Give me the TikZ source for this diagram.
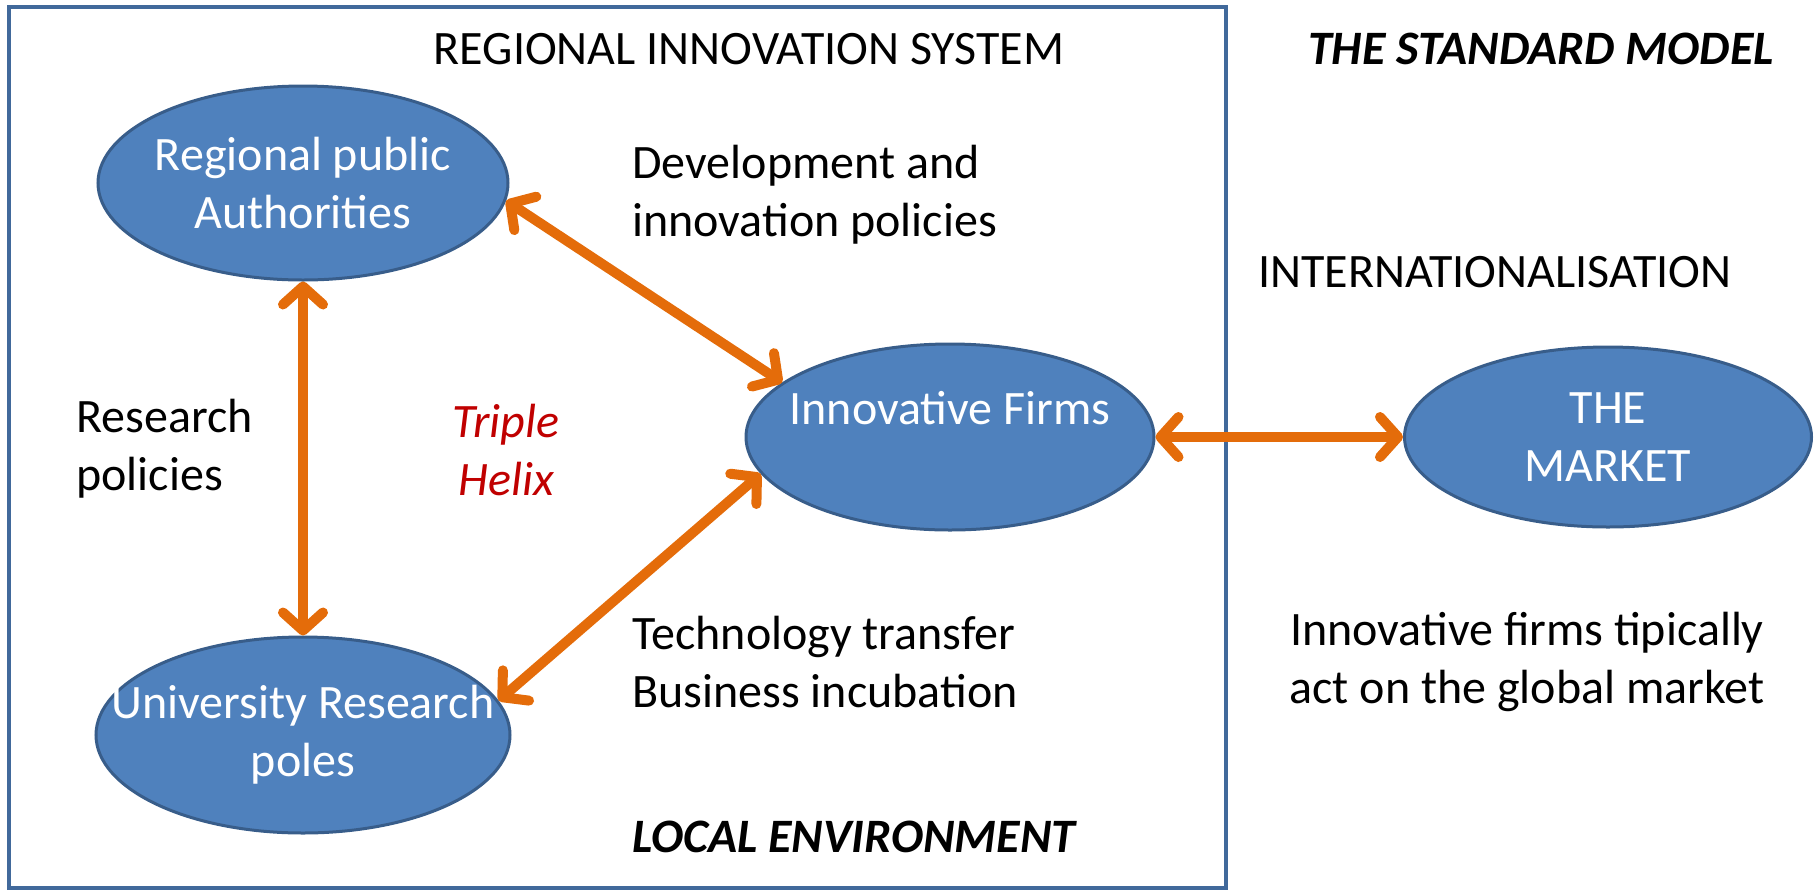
\documentclass[tikz,border=0pt]{standalone}
\usepackage{fontspec}
\setmainfont{Carlito}
\usepackage{tikz}
\usetikzlibrary{arrows.meta,positioning}
\usetikzlibrary{shapes.geometric}
\definecolor{blobfill}{HTML}{4F81BD}
\definecolor{blobline}{HTML}{385D8A}
\definecolor{boxline}{HTML}{41699B}
\definecolor{linkorange}{HTML}{E46C0A}
\definecolor{helixred}{HTML}{C00000}
\begin{document}
\begin{tikzpicture}[x=0.5pt, y=-0.5pt, font=\fontsize{24}{29}\selectfont,
  blob/.style={ellipse, draw=blobline, fill=blobfill, line width=1.5pt, inner sep=0pt, text=white, align=center},
  link/.style={draw=linkorange, line width=5pt, {Straight Barb[length=9pt,width=20pt,round]}-{Straight Barb[length=9pt,width=20pt,round]}},
  lbl/.style={inner sep=0pt, align=left}]
\useasboundingbox (0,0) rectangle (1817,890);
%\draw[step=100,gray,very thin] (0,0) grid (1817,890);
\draw[boxline, line width=2pt] (9,7) rectangle (1226,888);%%
% the three partners
\node[blob, minimum width=205pt, minimum height=97pt] (rpa) at (303,183) {\makebox[0pt]{Regional public}\\\makebox[0pt]{Authorities}};%%
\node[blob, minimum width=204pt, minimum height=93pt] (firms) at (950,437) {\makebox[0pt]{Innovative Firms}\\\mbox{}};%%
\node[blob, minimum width=207pt, minimum height=98pt] (urp) at (303,735) {\makebox[0pt]{University Research}\\\makebox[0pt]{poles}};%%
\node[blob, minimum width=203.5pt, minimum height=90pt] (market) at (1608,437) {THE\\MARKET};%%
% labels
\node[lbl] (rissys) at (749,49) {REGIONAL INNOVATION SYSTEM};%%
\node[lbl] (stdmodel) at (1541,49) {\bfseries\itshape THE STANDARD MODEL};%%
\node[lbl, anchor=west] (devpol) at (632,195) {Development and\\innovation policies};%%
\node[lbl] (intern) at (1495,272) {INTERNATIONALISATION};%%
\node[lbl, anchor=west] (respol) at (76,449) {Research\\policies};%%
\node[lbl, align=center, text=helixred, font=\fontsize{24}{29}\selectfont\itshape] (helix) at (506,450) {Triple\\Helix};%%
\node[lbl, anchor=west] (techtr) at (632,662) {Technology transfer\\Business incubation};%%
\node[lbl, align=center] (global) at (1527,662) {Innovative firms tipically\\act on the global market};%%
\node[lbl, anchor=west] (localenv) at (632,837) {\bfseries\itshape LOCAL ENVIRONMENT};%%
% connectors
\draw[link] (rpa.south) -- (urp.north);%%
\draw[link] (rpa.-5) -- (firms.162);%%
\draw[link] (urp.10) -- (firms.-169);%%
\draw[link] (firms.east) -- (market.west);%%
\end{tikzpicture}
\end{document}
